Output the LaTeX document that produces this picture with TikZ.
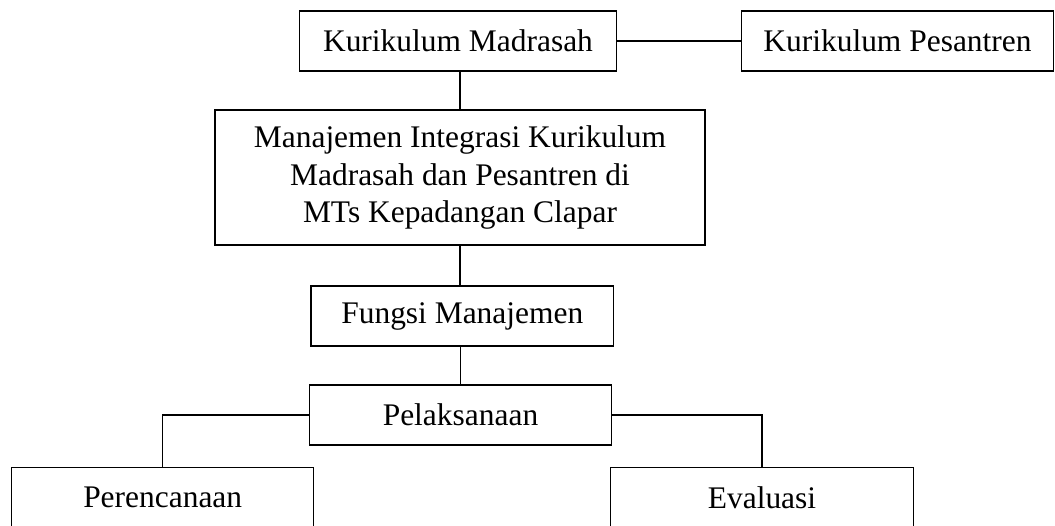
\documentclass[tikz,border=0pt]{standalone}
\usepackage{fontspec}
\setmainfont{Liberation Serif}
\usetikzlibrary{shapes,arrows}
\tikzstyle{box} = [draw, line width=0.7pt, rectangle, align=center, inner sep=0pt, minimum height=1.2cm, font=\fontsize{17.9}{21.3}\selectfont]
\tikzstyle{line} = [draw, line width=0.7pt]

\begin{document}
\begin{tikzpicture}[x=0.02cm, y=-0.02cm]
    \useasboundingbox (0,0) rectangle (1055,526);
    \clip (0,0) rectangle (1055,526);

    \node[box, minimum width=6.34cm] (madrasah) at (458, 41) {Kurikulum Madrasah};
    \node[box, minimum width=6.23cm] (pesantren) at (897.5, 41) {Kurikulum Pesantren};
    \node[box, minimum width=9.8cm, minimum height=2.7cm] (integrasi) at (460, 177.5) {Manajemen Integrasi Kurikulum\\Madrasah dan Pesantren di\\MTs Kepadangan Clapar};
    \node[box, minimum width=6.05cm] (fungsi) at (462.3, 316) {Fungsi Manajemen};
    \node[box, minimum width=6.05cm] (pelaksanaan) at (460.5, 415) {Pelaksanaan};
    \node[box, minimum width=6.04cm] (perencanaan) at (162.7, 497.7) {Perencanaan};
    \node[box, minimum width=6.05cm] (evaluasi) at (762, 497.7) {Evaluasi};

    \path [line] (madrasah) -- (pesantren);
    \path [line] (madrasah.south -| integrasi.north) -- (integrasi.north);
    \path [line] (integrasi.south) -- (integrasi.south |- fungsi.north);
    \path [line] (fungsi.south -| pelaksanaan.north) -- (pelaksanaan.north);
    \path [line] (pelaksanaan.west) -| (perencanaan.north);
    \path [line] (pelaksanaan.east) -| (evaluasi.north);

  \end{tikzpicture}
\end{document}
